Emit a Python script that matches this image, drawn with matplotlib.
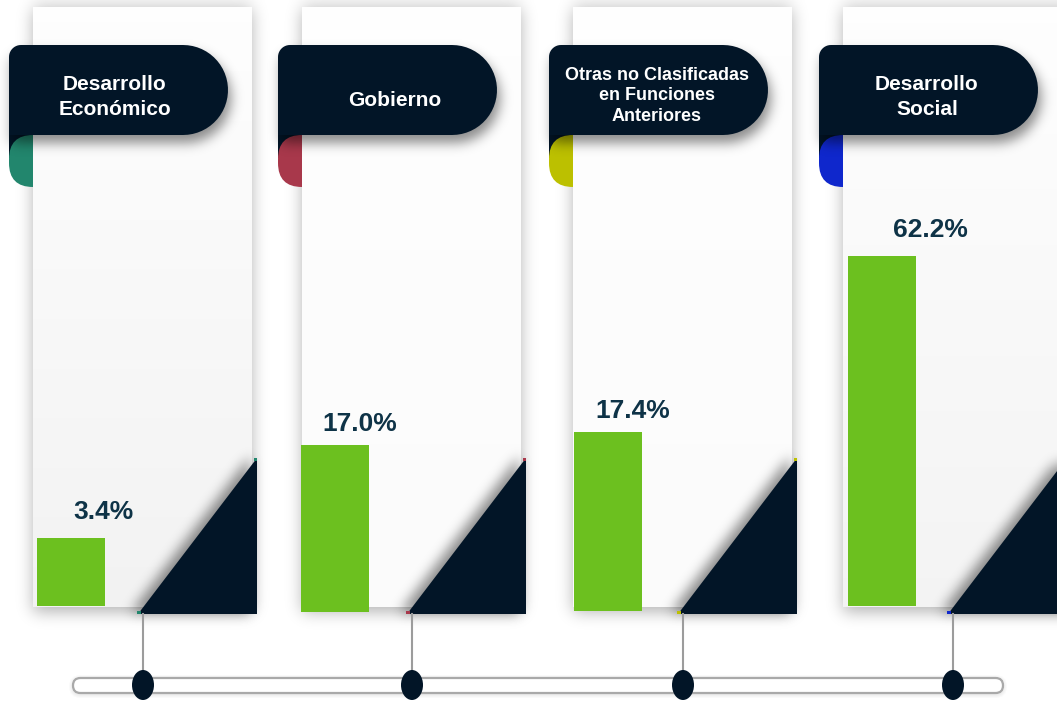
import numpy as np
import matplotlib.pyplot as plt
from matplotlib.patches import FancyBboxPatch, Ellipse, Polygon, PathPatch, Rectangle
from matplotlib.path import Path

plt.rcParams['font.family'] = ['Liberation Sans', 'DejaVu Sans']

# data
categories = ["Desarrollo\nEconómico", "Gobierno",
              "Otras no Clasificadas\nen Funciones\nAnteriores", "Desarrollo\nSocial"]
shares = [3.4, 17.0, 17.4, 62.2]
accent_colors = ["#22866d", "#a8384b", "#bcc000", "#0f27cc"]

# colours
navy = "#021527"
green = "#6cc01f"
label_color = "#0e3347"

# layout, in pixels of the 1057x703 canvas
W, H = 1057, 703
card_left = [33, 302, 573, 843]
card_top, card_bottom, card_w = 7, 607, 219
card_shade = [0.95, 0.985, 0.985, 0.955]
bar_left = [37, 301, 574, 848]
bar_base = [606, 612, 611, 606]
bar_w = 68
y_tops = [30, 61.6, 58.7, 106.5]   # each panel has its own scale
label_dx = [32, 25, 25, 48]
label_dy = [19, 14, 14, 19]
head_x = [115, 395, 657, 927]
head_y = [97, 101, 96, 97]
head_size = [15, 15, 13, 15]
head_spacing = [1.38, 1.38, 1.3, 1.38]

yy, xx = np.mgrid[0:H, 0:W] + 0.5
pts = np.column_stack([xx.ravel(), yy.ravel()])


def gauss_matrix(n, s):
    i = np.arange(n)
    g = np.exp(-0.5 * ((i[:, None] - i[None, :]) / s) ** 2)
    return g / g.sum(axis=0, keepdims=True)


def blur(m, s):
    return gauss_matrix(H, s).T @ m @ gauss_matrix(W, s)


def shadow_layer(ax, mask, s, strength, z):
    a = np.clip(blur(mask, s) * strength, 0, 1)
    img = np.zeros((H, W, 4))
    img[..., 3] = a
    ax.imshow(img, extent=(0, W, H, 0), origin="upper", aspect="auto",
              zorder=z, interpolation="bilinear")


def tab_path(L, T, B, R, rc=12):
    # tab: small rounded top-left corner, half circle on the right
    r = (B - T) / 2.0
    p = [(L, B), (L, T + rc)]
    a = np.linspace(np.pi, 1.5 * np.pi, 12)
    p += [(L + rc + rc * np.cos(t), T + rc + rc * np.sin(t)) for t in a]
    a = np.linspace(-0.5 * np.pi, 0.5 * np.pi, 30)
    p += [(R - r + r * np.cos(t), T + r + r * np.sin(t)) for t in a]
    p.append((L, B))
    return Path(p, closed=True)


fig = plt.figure(figsize=(W / 100, H / 100), dpi=100)
bg = fig.add_axes([0, 0, 1, 1])
bg.axis("off")

card_mask = np.zeros((H, W))
top_mask = np.zeros((H, W))

for i in range(4):
    cl = card_left[i]
    acc = accent_colors[i]

    card_mask[(yy > card_top + 3) & (yy < card_bottom + 5) & (xx > cl) & (xx < cl + card_w)] = 1

    # navy behind the curl, then the coloured curl
    bg.add_patch(Rectangle((cl - 24, 128), 30, 30, fc=navy, ec="none", zorder=2))
    bg.add_patch(FancyBboxPatch((cl - 24, 135), 60, 52,
                                boxstyle="round,pad=0,rounding_size=24",
                                fc=acc, ec="none", zorder=3))
    grad = np.linspace(0.997, card_shade[i], 100)[:, None, None] * np.ones((1, 1, 3))
    bg.imshow(grad, extent=(cl, cl + card_w, card_bottom, card_top), origin="upper",
              aspect="auto", zorder=4, interpolation="bilinear")

    # header tab
    L, T, B, R = cl - 24, 45, 135, cl + 195
    p = tab_path(L, T, B, R)
    sp = Path(p.vertices + np.array([3, 8]), closed=True)
    top_mask[sp.contains_points(pts).reshape(H, W)] = 1
    bg.add_patch(PathPatch(p, fc=navy, ec="none", zorder=6))
    bg.text(head_x[i], head_y[i], categories[i], color="white", fontsize=head_size[i],
            fontweight="bold", ha="center", va="center", multialignment="center",
            linespacing=head_spacing[i], zorder=7)

    # corner triangle
    tl, tr, ty, tb = cl + 105, cl + 224, 458, 614
    tri = np.array([(tl, tb), (tr, tb), (tr, ty)])
    st = Path(np.vstack([tri - np.array([7, 2]), tri[:1] - np.array([7, 2])]), closed=True)
    top_mask[st.contains_points(pts).reshape(H, W)] = 1
    bg.add_patch(Polygon(tri, closed=True, fc=navy, ec="none", zorder=7))
    bg.add_patch(Rectangle((tr - 3, ty), 3, 3, fc=acc, ec="none", zorder=8))
    bg.add_patch(Rectangle((tl - 1, tb - 3), 4, 3, fc=acc, ec="none", zorder=8))

    # connector to the timeline
    cx = cl + 110
    bg.plot([cx, cx], [tb, 684], color="#9c9c9c", lw=1.5, zorder=8)

shadow_layer(bg, card_mask, 8, 0.3, 1)
shadow_layer(bg, top_mask, 6, 0.45, 5)

# timeline pill
for k in range(1, 5):
    bg.add_patch(FancyBboxPatch((73, 679), 930, 15,
                                boxstyle=f"round,pad={k},rounding_size={7.5 + k}",
                                fc="black", ec="none", alpha=0.02, zorder=8))
bg.add_patch(FancyBboxPatch((73, 678), 930, 15, boxstyle="round,pad=0,rounding_size=7.5",
                            fc="white", ec="#a9a9a9", lw=1.6, zorder=9))
for i in range(4):
    bg.add_patch(Ellipse((card_left[i] + 110, 685), 22, 30, fc=navy, ec="none", zorder=10))

bg.set_xlim(0, W)
bg.set_ylim(H, 0)

# one small bar chart per panel
for i in range(4):
    ax = fig.add_axes([bar_left[i] / W, (H - bar_base[i]) / H,
                       bar_w / W, (bar_base[i] - card_top) / H])
    ax.patch.set_alpha(0)
    ax.axis("off")
    ax.bar([0], [shares[i]], width=1.0, color=green, zorder=3)
    ax.set_xlim(-0.5, 0.5)
    ax.set_ylim(0, y_tops[i])
    ax.annotate(f"{shares[i]:.1f}%", xy=(0, shares[i]), xytext=(label_dx[i], label_dy[i]),
                textcoords="offset pixels", ha="center", va="baseline",
                fontsize=19, fontweight="bold", color=label_color, annotation_clip=False)

fig.savefig("out.png", dpi=100)
